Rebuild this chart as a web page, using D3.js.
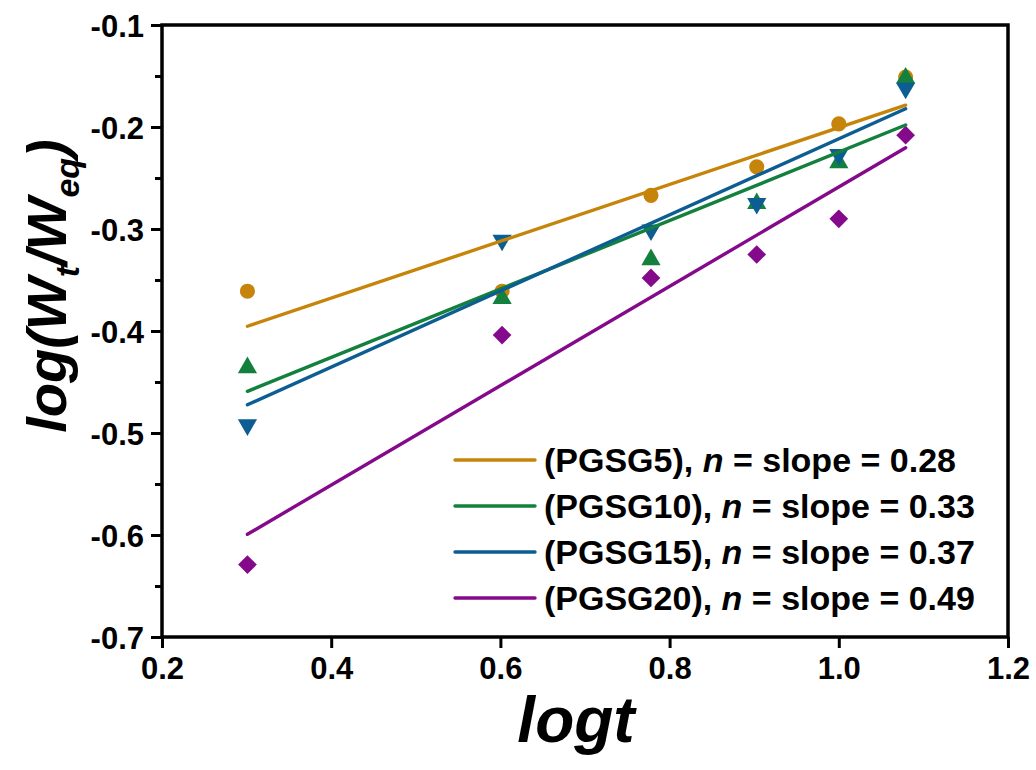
<!DOCTYPE html>
<html>
<head>
<meta charset="utf-8">
<script src="https://cdn.jsdelivr.net/npm/d3@7"></script>
<style>
  html, body { margin: 0; padding: 0; background: #ffffff; }
  svg { display: block; }
  text { font-family: "Liberation Sans", Arial, sans-serif; font-weight: bold; fill: #000; }
</style>
</head>
<body>
<svg id="chart" width="1036" height="770"></svg>
<script>
// log t values (t = 2, 4, 6, 8, 10, 12)
const logT = [0.301, 0.602, 0.778, 0.903, 1.0, 1.079];

// log(Wt/Weq) for each sample
const pgsg5  = [-0.361, -0.361, -0.267, -0.239, -0.197, -0.151];
const pgsg10 = [-0.436, -0.368, -0.330, -0.275, -0.235, -0.152];
const pgsg15 = [-0.492, -0.311, -0.301, -0.275, -0.227, -0.162];
const pgsg20 = [-0.629, -0.404, -0.348, -0.325, -0.290, -0.208];

const seriesNames = ["PGSG5", "PGSG10", "PGSG15", "PGSG20"];
const slopeLabels = ["0.28", "0.33", "0.37", "0.49"];
const seriesColors = ["#C6850A", "#13803D", "#0C5E92", "#850A8B"];
const seriesShapes = ["circle", "triangleUp", "triangleDown", "diamond"];

const xTicks = [0.2, 0.4, 0.6, 0.8, 1.0, 1.2];
const yTicks = [-0.7, -0.6, -0.5, -0.4, -0.3, -0.2, -0.1];
const yMinorTicks = [-0.65, -0.55, -0.45, -0.35, -0.25, -0.15];

const seriesValues = [pgsg5, pgsg10, pgsg15, pgsg20];

const svg = d3.select("#chart");
const plotLeft = 162, plotRight = 1008, plotTop = 25, plotBottom = 637;

const x = d3.scaleLinear().domain([0.2, 1.2]).range([plotLeft, plotRight]);
const y = d3.scaleLinear().domain([-0.7, -0.1]).range([plotBottom, plotTop]);

// least-squares fit of log(Wt/Weq) against log t
function linearFit(xs, ys) {
  const mx = d3.mean(xs), my = d3.mean(ys);
  let sxy = 0, sxx = 0;
  xs.forEach((v, i) => { sxy += (v - mx) * (ys[i] - my); sxx += (v - mx) * (v - mx); });
  const slope = sxy / sxx;
  return { slope, intercept: my - slope * mx };
}

const fmt = d => d.toFixed(1);

// axes
const xAxis = d3.axisBottom(x).tickValues(xTicks).tickFormat(fmt)
  .tickSizeInner(11).tickSizeOuter(0).tickPadding(9);
const gx = svg.append("g").attr("transform", `translate(0,${plotBottom})`).call(xAxis);

const yAxis = d3.axisLeft(y).tickValues(yTicks).tickFormat(fmt)
  .tickSizeInner(11).tickSizeOuter(0).tickPadding(7);
const gy = svg.append("g").attr("transform", `translate(${plotLeft},0)`).call(yAxis);

const yMinor = d3.axisLeft(y).tickValues(yMinorTicks).tickFormat("").tickSizeInner(7).tickSizeOuter(0);
const gym = svg.append("g").attr("transform", `translate(${plotLeft},0)`).call(yMinor);

[gx, gy, gym].forEach(g => {
  g.select(".domain").remove();
  g.selectAll(".tick line").attr("stroke", "#000").attr("stroke-width", 3);
  g.selectAll(".tick text").style("font-size", "31px").attr("fill", "#000");
});
gy.selectAll(".tick text").attr("dy", "0.36em");
gx.selectAll(".tick text").attr("dy", "0.72em");

// frame
svg.append("rect")
  .attr("x", plotLeft).attr("y", plotTop)
  .attr("width", plotRight - plotLeft).attr("height", plotBottom - plotTop)
  .attr("fill", "none").attr("stroke", "#000").attr("stroke-width", 3.5);

// markers
function symbolFor(shape) {
  if (shape === "circle") return d3.symbol(d3.symbolCircle, 180)();
  if (shape === "triangleUp" || shape === "triangleDown") return d3.symbol(d3.symbolTriangle, 160)();
  return d3.symbol(d3.symbolSquare, 175)();
}
function rotationFor(shape) {
  if (shape === "triangleDown") return 180;
  if (shape === "diamond") return 45;
  return 0;
}

seriesValues.forEach((vals, si) => {
  svg.append("g").selectAll("path")
    .data(vals.map((v, i) => ({ xv: logT[i], yv: v })))
    .join("path")
    .attr("d", symbolFor(seriesShapes[si]))
    .attr("transform", d => `translate(${x(d.xv)},${y(d.yv)}) rotate(${rotationFor(seriesShapes[si])})`)
    .attr("fill", seriesColors[si]);
});

// fitted lines
seriesValues.forEach((vals, si) => {
  const fit = linearFit(logT, vals);
  const x0 = d3.min(logT), x1 = d3.max(logT);
  svg.append("line")
    .attr("x1", x(x0)).attr("y1", y(fit.intercept + fit.slope * x0))
    .attr("x2", x(x1)).attr("y2", y(fit.intercept + fit.slope * x1))
    .attr("stroke", seriesColors[si]).attr("stroke-width", 3.4)
    .attr("stroke-linecap", "round");
});

// legend
const legend = svg.append("g").attr("transform", "translate(455,460)");
seriesNames.forEach((name, i) => {
  const row = legend.append("g").attr("transform", `translate(0,${i * 46})`);
  row.append("line").attr("x1", 0).attr("x2", 80).attr("y1", 0).attr("y2", 0)
    .attr("stroke", seriesColors[i]).attr("stroke-width", 3.4).attr("stroke-linecap", "round");
  const t = row.append("text").attr("x", 89).attr("y", 0).attr("dy", "0.36em").style("font-size", "34px");
  t.append("tspan").text(`(${name}), `);
  t.append("tspan").style("font-style", "italic").text("n");
  t.append("tspan").text(` = slope = ${slopeLabels[i]}`);
});

// axis titles
svg.append("text")
  .attr("x", 576).attr("y", 742)
  .attr("text-anchor", "middle")
  .style("font-size", "64px").style("font-style", "italic")
  .text("logt");

const yt = svg.append("text")
  .attr("transform", "translate(66,286) rotate(-90)")
  .attr("text-anchor", "middle")
  .style("font-size", "56px").style("font-style", "italic");
yt.append("tspan").text("log(W");
yt.append("tspan").attr("dy", 13).style("font-size", "34px").text("t");
yt.append("tspan").attr("dy", -13).text("/W");
yt.append("tspan").attr("dy", 13).style("font-size", "34px").text("eq");
yt.append("tspan").attr("dy", -13).text(")");
</script>
</body>
</html>
